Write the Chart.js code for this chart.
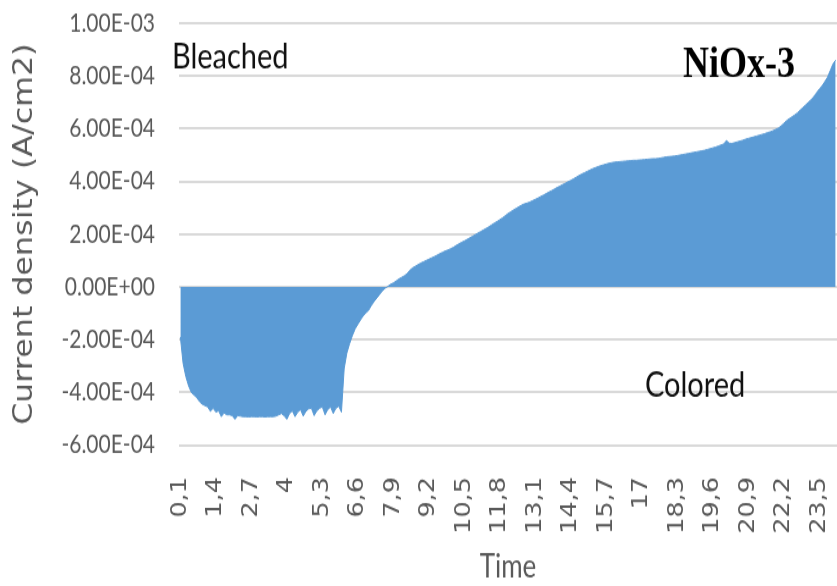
<!DOCTYPE html>
<html>
<head>
<meta charset="utf-8">
<script src="https://cdn.jsdelivr.net/npm/chart.js@4/dist/chart.umd.min.js"></script>
<style>
  html, body { margin: 0; padding: 0; background: #fff; width: 837px; height: 586px; }
  /* the reference is stretched vertically, so the chart is drawn short and scaled up */
  #wrap { width: 837px; height: 480px; transform: scaleY(1.2208); transform-origin: 0 0; }
  #chart { display: block; width: 837px; height: 480px; }
</style>
</head>
<body>
<div id="wrap"><canvas id="chart" width="837" height="480"></canvas></div>
<script>
// Time axis: 0,1 ... 24,1 in steps of 0,1
const timeStart = 0.1;
const timeCount = 241;

// Tick labels printed under the axis
const xTickLabels = ['0,1', '1,4', '2,7', '4', '5,3', '6,6', '7,9', '9,2', '10,5', '11,8',
    '13,1', '14,4', '15,7', '17', '18,3', '19,6', '20,9', '22,2', '23,5'];

// Current density in units of 1E-04 A/cm2, one value per 0,1 time step
const densityE4 = [
    -1.9, -2.9, -3.4, -3.75, -4.0, -4.1, -4.2, -4.35, -4.45, -4.5,
    -4.55, -4.72, -4.6, -4.75, -4.7, -4.92, -4.78, -4.85, -4.85, -4.88,
    -5.02, -4.88, -4.9, -4.92, -4.92, -4.93, -4.92, -4.92, -4.93, -4.92,
    -4.92, -4.93, -4.92, -4.92, -4.92, -4.9, -4.85, -4.8, -4.88, -5.02,
    -4.8, -4.7, -4.92, -4.75, -4.65, -4.9, -4.72, -4.62, -4.6, -4.88,
    -4.7, -4.6, -4.55, -4.85, -4.65, -4.55, -4.8, -4.6, -4.52, -4.75,
    -3.1, -2.5, -2.15, -1.85, -1.6, -1.42, -1.25, -1.1, -0.98, -0.88,
    -0.7, -0.55, -0.42, -0.28, -0.15, -0.05, 0.02, 0.1, 0.15, 0.22,
    0.3, 0.36, 0.42, 0.5, 0.62, 0.72, 0.78, 0.84, 0.9, 0.95,
    1.0, 1.05, 1.1, 1.15, 1.2, 1.26, 1.31, 1.36, 1.4, 1.45,
    1.5, 1.57, 1.63, 1.69, 1.74, 1.8, 1.86, 1.92, 1.98, 2.04,
    2.1, 2.16, 2.22, 2.28, 2.35, 2.42, 2.48, 2.55, 2.62, 2.7,
    2.78, 2.85, 2.92, 2.98, 3.04, 3.1, 3.15, 3.18, 3.22, 3.27,
    3.32, 3.37, 3.43, 3.48, 3.54, 3.6, 3.65, 3.71, 3.77, 3.82,
    3.88, 3.93, 3.99, 4.04, 4.1, 4.16, 4.22, 4.28, 4.33, 4.38,
    4.43, 4.48, 4.52, 4.56, 4.6, 4.63, 4.66, 4.69, 4.71, 4.73,
    4.74, 4.75, 4.76, 4.77, 4.78, 4.79, 4.8, 4.8, 4.81, 4.82,
    4.83, 4.84, 4.85, 4.86, 4.86, 4.87, 4.89, 4.91, 4.93, 4.94,
    4.95, 4.96, 4.98, 5.0, 5.02, 5.04, 5.06, 5.08, 5.1, 5.12,
    5.14, 5.16, 5.18, 5.21, 5.24, 5.27, 5.3, 5.34, 5.38, 5.42,
    5.55, 5.45, 5.44, 5.47, 5.5, 5.53, 5.56, 5.6, 5.63, 5.66,
    5.69, 5.72, 5.75, 5.78, 5.81, 5.85, 5.88, 5.92, 5.97, 6.02,
    6.1, 6.2, 6.3, 6.38, 6.45, 6.52, 6.6, 6.7, 6.8, 6.9,
    7.0, 7.1, 7.22, 7.36, 7.5, 7.62, 7.78, 7.95, 8.2, 8.45, 8.6
];

// Y axis range
const yMin = -6e-4;
const yMax = 1e-3;
const yStep = 2e-4;

// Text placed on the plot
const notes = [
    { text: 'Bleached', x: 172, y: 56, font: '29px Lato', color: '#111' },
    { text: 'Colored', x: 645, y: 325, font: '29px Lato', color: '#111' },
    { text: 'NiOx-3', x: 683, y: 63, font: 'bold 36px "Liberation Serif"', color: '#000' }
];

const timeLabels = [];
for (let i = 0; i < timeCount; i++) {
    timeLabels.push((Math.round((timeStart + i * 0.1) * 10) / 10).toString().replace('.', ','));
}
const density = densityE4.map(v => v * 1e-4);

// Excel style scientific labels, e.g. 8.00E-04
function sciLabel(v) {
    const parts = Number(v).toExponential(2).split('e');
    const sign = parts[1][0] === '-' ? '-' : '+';
    const exp = parts[1].replace(/[+-]/, '').padStart(2, '0');
    return parts[0] + 'E' + sign + exp;
}

// fixed box sizes, no extra room for overhanging labels
function fixBox(scale, w, h) {
    if (w !== null) scale.width = w;
    if (h !== null) scale.height = h;
    scale.paddingTop = 0;
    scale.paddingBottom = 0;
    scale.paddingLeft = 0;
    scale.paddingRight = 0;
}

const notesPlugin = {
    id: 'notes',
    afterDraw(chart) {
        const ctx = chart.ctx;
        ctx.save();
        ctx.textBaseline = 'alphabetic';
        ctx.textAlign = 'left';
        notes.forEach(n => {
            ctx.font = n.font;
            ctx.fillStyle = n.color;
            ctx.fillText(n.text, n.x, n.y);
        });
        ctx.restore();
    }
};

new Chart(document.getElementById('chart'), {
    type: 'line',
    data: {
        labels: timeLabels,
        datasets: [{
            data: density,
            backgroundColor: '#5b9bd5',
            borderColor: '#5b9bd5',
            borderWidth: 1,
            pointRadius: 0,
            fill: 'origin',
            tension: 0
        }]
    },
    options: {
        responsive: false,
        animation: false,
        layout: { padding: { top: 19, right: 0, bottom: 0, left: 0 } },
        plugins: {
            legend: { display: false },
            tooltip: { enabled: false }
        },
        scales: {
            x: {
                type: 'category',
                offset: true,
                grid: { display: false },
                border: { display: false },
                ticks: {
                    autoSkip: false,
                    maxRotation: 90,
                    minRotation: 90,
                    padding: 18,
                    color: '#595959',
                    font: { family: 'DejaVu Sans', size: 21 },
                    callback: function(value, index) {
                        const lab = timeLabels[index];
                        return xTickLabels.includes(lab) ? lab : '';
                    }
                },
                title: {
                    display: true,
                    text: 'Time',
                    color: '#595959',
                    font: { family: 'Lato', size: 26 },
                    padding: { top: 0, bottom: 0 }
                },
                afterFit: function(scale) { fixBox(scale, null, 115.4); }
            },
            y: {
                min: yMin,
                max: yMax,
                grid: { color: '#d9d9d9', lineWidth: 2, drawTicks: false },
                border: { display: false },
                ticks: {
                    stepSize: yStep,
                    padding: 24,
                    color: '#595959',
                    font: { family: 'Lato', size: 21 },
                    callback: v => sciLabel(v)
                },
                title: {
                    display: true,
                    text: 'Current density (A/cm2)',
                    color: '#595959',
                    font: { family: 'DejaVu Sans', size: 26 },
                    padding: { top: 10, bottom: 0 }
                },
                afterFit: function(scale) { fixBox(scale, 179, null); }
            }
        }
    },
    plugins: [notesPlugin]
});
</script>
</body>
</html>
